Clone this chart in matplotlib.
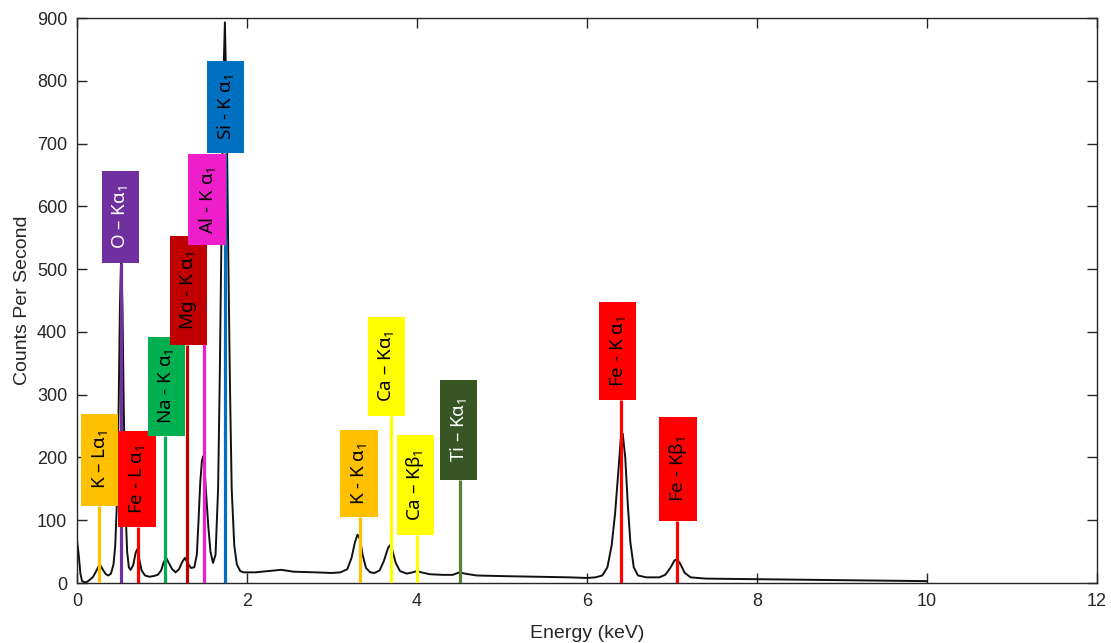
import numpy as np
import matplotlib
matplotlib.use("Agg")
import matplotlib.pyplot as plt
from matplotlib.patches import Rectangle

plt.rcParams['font.family'] = ['Liberation Sans', 'DejaVu Sans']
plt.rcParams['mathtext.fontset'] = 'custom'
plt.rcParams['mathtext.rm'] = 'Noto Sans'
plt.rcParams['mathtext.it'] = 'Noto Sans:italic'
plt.rcParams['mathtext.default'] = 'regular'

# spectrum (keV, counts per second)
energy = [0.00, 0.02, 0.04, 0.06, 0.09, 0.12, 0.15, 0.19, 0.23, 0.26, 0.28, 0.31, 0.34, 0.37,
          0.40, 0.43, 0.45, 0.47, 0.49, 0.505, 0.52, 0.535, 0.55, 0.57, 0.59, 0.61, 0.63,
          0.66, 0.69, 0.71, 0.73, 0.76, 0.80, 0.85, 0.90, 0.95, 0.99, 1.02, 1.05, 1.08,
          1.12, 1.16, 1.20, 1.24, 1.27, 1.30, 1.34, 1.38, 1.41, 1.43, 1.45, 1.47, 1.485,
          1.50, 1.52, 1.545, 1.57, 1.60, 1.63, 1.66, 1.68, 1.70, 1.72, 1.74, 1.76, 1.78,
          1.80, 1.82, 1.85, 1.88, 1.92, 1.96, 2.10, 2.25, 2.40, 2.55, 2.80, 3.00, 3.10,
          3.18, 3.23, 3.27, 3.30, 3.33, 3.36, 3.40, 3.45, 3.50, 3.56, 3.61, 3.66, 3.68,
          3.71, 3.75, 3.80, 3.88, 3.95, 4.00, 4.05, 4.15, 4.30, 4.42, 4.50, 4.56, 4.70,
          5.00, 5.40, 5.80, 6.00, 6.10, 6.18, 6.24, 6.29, 6.33, 6.37, 6.40, 6.42, 6.45,
          6.48, 6.51, 6.55, 6.60, 6.70, 6.85, 6.92, 6.98, 7.03, 7.06, 7.10, 7.15, 7.22,
          7.40, 8.00, 9.00, 10.00]
counts = [68, 45, 15, 3, 1, 2, 5, 10, 20, 28, 27, 20, 14, 12,
          15, 30, 60, 130, 280, 440, 520, 440, 280, 120, 50, 25, 21,
          28, 48, 54, 40, 20, 12, 10, 11, 13, 20, 33, 40, 32,
          22, 17, 22, 34, 40, 32, 24, 25, 45, 100, 160, 195, 202,
          185, 140, 90, 50, 32, 45, 150, 330, 560, 790, 893, 760, 520,
          310, 150, 60, 30, 19, 17, 17, 19, 21, 18, 17, 16, 17,
          22, 40, 65, 77, 70, 45, 24, 17, 16, 20, 35, 56, 60,
          52, 32, 19, 15, 17, 19, 17, 14, 13, 13, 17, 15, 12,
          11, 10, 9, 8, 9, 12, 25, 60, 110, 180, 235, 238, 200,
          125, 65, 25, 12, 9, 9, 13, 24, 36, 38, 30, 16, 9,
          7, 6, 4.5, 3]

# element line markers
labels = [r'K – L$\alpha_1$', r'O – K$\alpha_1$', r'Fe - L $\alpha_1$', r'Na - K $\alpha_1$',
          r'Mg - K $\alpha_1$', r'Al - K $\alpha_1$', r'Si - K $\alpha_1$', r'K - K $\alpha_1$',
          r'Ca – K$\alpha_1$', r'Ca – K$\beta_1$', r'Ti – K$\alpha_1$', r'Fe - K $\alpha_1$',
          r'Fe - K$\beta_1$']
line_e = [0.26, 0.52, 0.72, 1.04, 1.29, 1.49, 1.74, 3.33, 3.69, 4.00, 4.51, 6.40, 7.06]
box_e = [0.265, 0.51, 0.705, 1.05, 1.31, 1.53, 1.75, 3.32, 3.64, 3.98, 4.49, 6.36, 7.07]
box_lo = [123, 510, 89, 234, 379, 538, 685, 105, 266, 76, 164, 291, 99]
box_hi = [269, 656, 242, 392, 553, 683, 831, 244, 424, 236, 323, 448, 264]

box_col = ['#FFC000', '#7030A0', '#FF0000', '#00B050', '#C00000', '#EE1ECB', '#0070C0',
           '#FFC000', '#FFFF00', '#FFFF00', '#375623', '#FF0000', '#FF0000']
line_col = ['#FFC000', '#7030A0', '#FF0000', '#00B050', '#C00000', '#EE1ECB', '#0070C0',
            '#FFC000', '#FFFF00', '#FFFF00', '#548235', '#FF0000', '#FF0000']
txt_col = ['black', 'white', 'black', 'black', 'black', 'black', 'black',
           'black', 'black', 'black', 'white', 'black', 'black']

fig = plt.figure(figsize=(11.11, 6.43), dpi=100)
ax = fig.add_axes([0.0693, 0.0933, 0.9181, 0.8787])

ax.plot(energy, counts, color='#111111', lw=1.4, zorder=2)

bw = 0.44
for i in range(len(labels)):
    ax.plot([line_e[i], line_e[i]], [0, box_lo[i]], color=line_col[i], lw=2.3,
            solid_capstyle='butt', zorder=3)
    ax.add_patch(Rectangle((box_e[i] - bw / 2, box_lo[i]), bw, box_hi[i] - box_lo[i],
                           facecolor=box_col[i], edgecolor='none', zorder=4))
    ax.text(box_e[i], (box_lo[i] + box_hi[i]) / 2, labels[i], rotation=90,
            ha='center', va='center', fontsize=13.5, color=txt_col[i],
            family=['Noto Sans', 'DejaVu Sans'], zorder=5)

ax.set_xlim(0, 12)
ax.set_ylim(0, 900)
ax.set_xticks(np.arange(0, 13, 2))
ax.set_yticks(np.arange(0, 901, 100))
ax.tick_params(direction='in', length=7, width=1, top=True, right=True,
               labelsize=13, colors='#262626', pad=7)
for s in ax.spines.values():
    s.set_color('#262626')
    s.set_linewidth(1)

ax.set_xlabel('Energy (keV)', fontsize=14, color='#262626')
ax.set_ylabel('Counts Per Second', fontsize=14, color='#262626')
ax.xaxis.set_label_coords(0.5, -0.075)
ax.yaxis.set_label_coords(-0.045, 0.5)

fig.savefig('out.png', dpi=100)
